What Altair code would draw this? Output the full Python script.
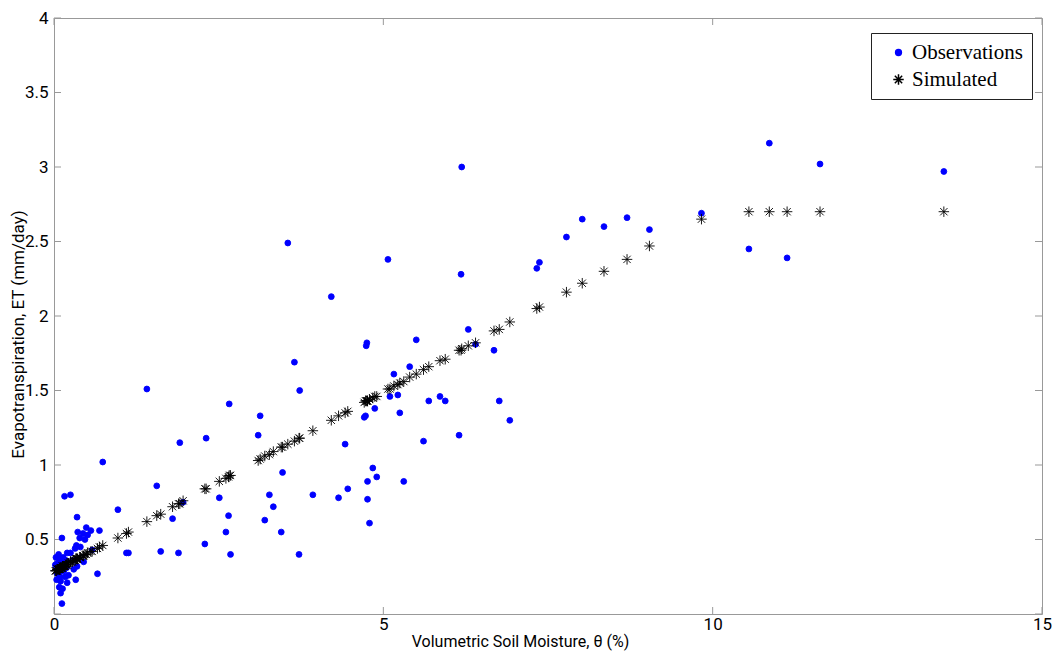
import altair as alt
import pandas as pd

# Volumetric soil moisture (%) of each observation
theta = [0.02, 0.03, 0.04, 0.05, 0.05, 0.06, 0.07, 0.08, 0.08, 0.09, 0.09, 0.10, 0.10,
         0.11, 0.12, 0.12, 0.13, 0.13, 0.14, 0.15, 0.16, 0.17, 0.18, 0.19, 0.20, 0.20,
         0.22, 0.25, 0.25, 0.28, 0.30, 0.32, 0.33, 0.34, 0.35, 0.35, 0.36, 0.39, 0.40,
         0.44, 0.45, 0.47, 0.49, 0.51, 0.56, 0.58, 0.66, 0.69, 0.74,
         0.97, 1.10, 1.13, 1.41, 1.56, 1.62, 1.80, 1.89, 1.91, 1.96, 2.29, 2.31, 2.51,
         2.61, 2.65, 2.66, 2.68, 3.10, 3.13, 3.20, 3.27, 3.33, 3.45, 3.47, 3.55, 3.65,
         3.72, 3.73, 3.93, 4.21, 4.32, 4.42, 4.46, 4.71, 4.73, 4.74, 4.75, 4.76, 4.76,
         4.79, 4.84, 4.87, 4.90, 5.07, 5.10, 5.16, 5.22, 5.25, 5.31, 5.40, 5.50, 5.61,
         5.69, 5.86, 5.94, 6.15, 6.18, 6.19, 6.29, 6.40, 6.68, 6.76, 6.92, 7.33, 7.37,
         7.78, 8.02, 8.35, 8.70, 9.04, 9.83, 10.55, 10.86, 11.13, 11.63, 13.51]

# Observed evapotranspiration (mm/day)
et_obs = [0.33, 0.38, 0.23, 0.34, 0.27, 0.31, 0.40, 0.37, 0.18, 0.28, 0.25, 0.22, 0.14,
          0.35, 0.51, 0.07, 0.33, 0.17, 0.38, 0.29, 0.79, 0.25, 0.36, 0.31, 0.41, 0.21,
          0.26, 0.80, 0.41, 0.36, 0.30, 0.44, 0.23, 0.46, 0.65, 0.32, 0.55, 0.51, 0.45,
          0.54, 0.35, 0.50, 0.58, 0.53, 0.56, 0.43, 0.27, 0.56, 1.02,
          0.70, 0.41, 0.41, 1.51, 0.86, 0.42, 0.64, 0.41, 1.15, 0.75, 0.47, 1.18, 0.78,
          0.55, 0.66, 1.41, 0.40, 1.20, 1.33, 0.63, 0.80, 0.72, 0.55, 0.95, 2.49, 1.69,
          0.40, 1.50, 0.80, 2.13, 0.78, 1.14, 0.84, 1.32, 1.33, 1.80, 1.82, 0.89, 0.77,
          0.61, 0.98, 1.38, 0.92, 2.38, 1.46, 1.61, 1.47, 1.35, 0.89, 1.66, 1.84, 1.16,
          1.43, 1.46, 1.43, 1.20, 2.28, 3.00, 1.91, 1.81, 1.77, 1.43, 1.30, 2.32, 2.36,
          2.53, 2.65, 2.60, 2.66, 2.58, 2.69, 2.45, 3.16, 2.39, 3.02, 2.97]

# Simulated evapotranspiration (mm/day) at the same soil moisture
et_sim = [0.29, 0.29, 0.29, 0.30, 0.30, 0.30, 0.30, 0.30, 0.30, 0.30, 0.30, 0.31, 0.31,
          0.31, 0.31, 0.31, 0.32, 0.32, 0.32, 0.32, 0.32, 0.32, 0.33, 0.33, 0.33, 0.33,
          0.34, 0.35, 0.35, 0.35, 0.36, 0.36, 0.37, 0.37, 0.37, 0.37, 0.37, 0.38, 0.38,
          0.39, 0.39, 0.40, 0.40, 0.41, 0.42, 0.42, 0.44, 0.45, 0.46,
          0.51, 0.54, 0.55, 0.62, 0.66, 0.67, 0.72, 0.74, 0.74, 0.76, 0.84, 0.84, 0.89,
          0.91, 0.92, 0.93, 0.93, 1.03, 1.04, 1.06, 1.07, 1.09, 1.12, 1.12, 1.14, 1.16,
          1.18, 1.18, 1.23, 1.30, 1.33, 1.35, 1.36, 1.42, 1.43, 1.43, 1.43, 1.43, 1.43,
          1.44, 1.45, 1.46, 1.46, 1.51, 1.51, 1.53, 1.54, 1.55, 1.56, 1.59, 1.61, 1.64,
          1.66, 1.70, 1.71, 1.77, 1.77, 1.78, 1.80, 1.82, 1.90, 1.91, 1.96, 2.05, 2.06,
          2.16, 2.22, 2.30, 2.38, 2.47, 2.65, 2.70, 2.70, 2.70, 2.70, 2.70]

series_names = ["Observations", "Simulated"]
x_ticks = [0, 5, 10, 15]
y_ticks = [0, 0.5, 1, 1.5, 2, 2.5, 3, 3.5, 4]

rows = []
for t, o in zip(theta, et_obs):
    rows.append({"theta": t, "et": o, "series": series_names[0], "order": 0})
for t, s in zip(theta, et_sim):
    rows.append({"theta": t, "et": s, "series": series_names[1], "order": 1})
df = pd.DataFrame(rows)

W, H = 988, 596
AXIS_FONT = "Roboto, sans-serif"
STAR = "M-1,0L1,0M0,-1L0,1M-0.7,-0.7L0.7,0.7M-0.7,0.7L0.7,-0.7"

xscale = alt.Scale(domain=[0, 15], nice=False, zero=False, padding=0)
yscale = alt.Scale(domain=[0, 4], nice=False, zero=False, padding=0)

points = alt.Chart(df).mark_point(opacity=1, strokeWidth=0.9).encode(
    x=alt.X("theta:Q", scale=xscale,
            title="Volumetric Soil Moisture, θ (%)",
            axis=alt.Axis(values=x_ticks, format="~g", ticks=False, domain=False,
                          grid=False, labelPadding=2, labelFontSize=17,
                          labelFlush=False,
                          labelFont=AXIS_FONT, labelColor="black",
                          titleFont=AXIS_FONT, titleFontSize=16,
                          titleFontWeight="normal", titleColor="black",
                          titleX=466, titleY=27, titleBaseline="middle")),
    y=alt.Y("et:Q", scale=yscale,
            title="Evapotranspiration, ET (mm/day)",
            axis=alt.Axis(values=y_ticks, format="~g", ticks=False, domain=False,
                          grid=False, labelPadding=6, labelFontSize=17,
                          labelFlush=False,
                          labelFont=AXIS_FONT, labelColor="black",
                          labelExpr="datum.value == 0 ? '' : datum.label",
                          titleFont=AXIS_FONT, titleFontSize=17,
                          titleFontWeight="normal", titleColor="black",
                          titleX=-36, titleY=316, titleAngle=270,
                          titleAlign="center", titleBaseline="middle")),
    shape=alt.Shape("series:N", title=None,
                    scale=alt.Scale(domain=series_names, range=["circle", STAR])),
    fill=alt.Fill("series:N", title=None,
                  scale=alt.Scale(domain=series_names, range=["#0000ff", "transparent"])),
    stroke=alt.Stroke("series:N", title=None,
                      scale=alt.Scale(domain=series_names, range=["#0000ff", "#000000"])),
    size=alt.Size("series:N", title=None,
                  scale=alt.Scale(domain=series_names, range=[34, 110])),
    order=alt.Order("order:Q"),
)

tick_len = 7
xt = pd.DataFrame({"v": x_ticks})
yt = pd.DataFrame({"v": y_ticks})
tick_color = "#999999"

bottom_ticks = alt.Chart(xt).mark_rule(color=tick_color, strokeWidth=1).encode(
    x=alt.X("v:Q", scale=xscale), y=alt.value(H), y2=alt.value(H - tick_len))
top_ticks = alt.Chart(xt).mark_rule(color=tick_color, strokeWidth=1).encode(
    x=alt.X("v:Q", scale=xscale), y=alt.value(0), y2=alt.value(tick_len))
left_ticks = alt.Chart(yt).mark_rule(color=tick_color, strokeWidth=1).encode(
    y=alt.Y("v:Q", scale=yscale), x=alt.value(0), x2=alt.value(tick_len))
right_ticks = alt.Chart(yt).mark_rule(color=tick_color, strokeWidth=1).encode(
    y=alt.Y("v:Q", scale=yscale), x=alt.value(W), x2=alt.value(W - tick_len))

chart = alt.layer(bottom_ticks, top_ticks, left_ticks, right_ticks, points).properties(
    width=W, height=H,
    autosize=alt.AutoSizeParams(type="none"),
    padding={"left": 46, "top": 10, "right": 10, "bottom": 40},
    background="white",
).configure_view(
    stroke="#999999", strokeWidth=1
).configure_legend(
    orient="none", legendX=817, legendY=15,
    fillColor="white", strokeColor="#222222", padding=9,
    labelFont="Liberation Serif, Times New Roman, serif", labelFontSize=21,
    labelColor="black", labelOffset=3, rowPadding=5, symbolOpacity=1,
    symbolOffset=8, titleFontSize=0,
)

chart.save("out.html", embed_options={"renderer": "svg", "actions": False})
